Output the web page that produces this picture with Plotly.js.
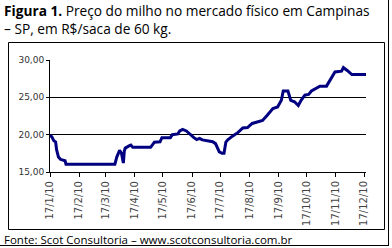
<!DOCTYPE html>
<html><head><meta charset="utf-8">
<script src="https://cdn.plot.ly/plotly-3.0.1.min.js"></script>
<style>html,body{margin:0;padding:0;background:#fff}#c{width:392px;height:248px}</style>
</head><body><div id="c"></div>
<script>
const dates = ["2010-01-17","2010-01-19","2010-01-21","2010-01-23","2010-01-24","2010-01-26","2010-01-28","2010-01-31","2010-02-02","2010-02-03",
"2010-03-27","2010-03-29","2010-03-31","2010-04-01","2010-04-03","2010-04-04","2010-04-05","2010-04-06","2010-04-07","2010-04-11","2010-04-13","2010-04-15",
"2010-05-04","2010-05-08","2010-05-14","2010-05-16","2010-05-25","2010-05-27","2010-06-02","2010-06-04","2010-06-07","2010-06-11","2010-06-16","2010-06-19","2010-06-22","2010-06-25","2010-06-28",
"2010-07-09","2010-07-12","2010-07-14","2010-07-16","2010-07-19","2010-07-21","2010-07-23","2010-07-25","2010-07-30","2010-08-05","2010-08-10","2010-08-15","2010-08-20","2010-08-26","2010-08-31",
"2010-09-05","2010-09-11","2010-09-16","2010-09-20","2010-09-22","2010-09-27","2010-09-30","2010-10-04","2010-10-08","2010-10-11","2010-10-15","2010-10-19","2010-10-22","2010-10-27","2010-10-31",
"2010-11-07","2010-11-11","2010-11-16","2010-11-23","2010-11-25","2010-11-29","2010-12-04","2010-12-19"];
const prices = [19.95,19.7,19.2,19.0,18.0,17.0,16.7,16.6,16.5,16.05,
16.05,17.0,17.8,17.9,17.5,16.5,16.2,17.8,18.2,18.5,18.6,18.3,
18.3,19.0,19.05,19.6,19.6,20.0,20.1,20.5,20.7,20.5,19.9,19.6,19.35,19.5,19.3,
19.05,18.8,18.2,17.7,17.5,17.5,19.0,19.3,19.8,20.3,20.9,20.95,21.5,21.7,21.9,
22.6,23.5,23.7,24.6,25.85,25.85,24.6,24.4,23.9,24.6,25.3,25.4,25.85,26.2,26.5,
26.5,27.35,28.4,28.5,29.0,28.6,28.05,28.05];
const tickDates = ["2010-01-17","2010-02-17","2010-03-17","2010-04-17","2010-05-17","2010-06-17","2010-07-17","2010-08-17","2010-09-17","2010-10-17","2010-11-17","2010-12-17"];
const tickLabels = ["17/1/10","17/2/10","17/3/10","17/4/10","17/5/10","17/6/10","17/7/10","17/8/10","17/9/10","17/10/10","17/11/10","17/12/10"];
const yTicks = [15,20,25,30];
const yLabels = ["15,00","20,00","25,00","30,00"];

const W=392,H=248,L=50,R=26,T=60,B=76;
const pw=W-L-R, ph=H-T-B;
const px=x=>(x-L)/pw, py=y=>1-(y-T)/ph;

const shapes=[
 {type:'rect',xref:'paper',yref:'paper',x0:px(8.5),x1:px(384.5),y0:py(229.5),y1:py(42.5),line:{color:'#000',width:1}},
 {type:'line',xref:'paper',yref:'paper',x0:px(388.5),x1:px(388.5),y0:py(0),y1:py(245.5),line:{color:'#000',width:1}},
 {type:'line',xref:'paper',yref:'paper',x0:px(0),x1:px(389),y0:py(245.5),y1:py(245.5),line:{color:'#000',width:1}}
];

Plotly.newPlot('c',[{
  x:dates,y:prices,type:'scatter',mode:'lines',
  line:{color:'#000080',width:3},hoverinfo:'skip'
}],{
  width:W,height:H,margin:{l:L,r:R,t:T,b:B,pad:0},
  paper_bgcolor:'#fff',plot_bgcolor:'#fff',showlegend:false,
  font:{family:'DejaVu Sans, sans-serif',size:9,color:'#333'},
  xaxis:{type:'date',range:['2010-01-17','2010-12-19'],tickvals:tickDates,ticktext:tickLabels,
    tickangle:-90,ticks:'outside',ticklen:4,tickcolor:'#000',showline:true,linecolor:'#000',linewidth:1,
    showgrid:false,zeroline:false,tickfont:{family:'DejaVu Sans, sans-serif',size:10,color:'#444'}},
  yaxis:{range:[15,30],tickvals:yTicks,ticktext:yLabels,ticks:'outside',ticklen:3,tickcolor:'#000',
    showline:true,linecolor:'#000',linewidth:1,showgrid:true,gridcolor:'#000',gridwidth:1,zeroline:false,
    tickfont:{family:'DejaVu Sans, sans-serif',size:9,color:'#333'}},
  shapes:shapes,
  annotations:[
   {text:'<b>Figura 1.</b> Preço do milho no mercado físico em Campinas<br>– SP, em R$/saca de 60 kg.',
    xref:'paper',yref:'paper',x:px(2),y:py(-1),xanchor:'left',yanchor:'top',align:'left',showarrow:false,
    font:{family:'Open Sans, sans-serif',size:13.7,color:'#000'}},
   {text:'Fonte: Scot Consultoria – www.scotconsultoria.com.br',xref:'paper',yref:'paper',
    x:px(2),y:py(239),xanchor:'left',yanchor:'middle',showarrow:false,
    font:{family:'Open Sans, sans-serif',size:11.5,color:'#000'}}]
},{staticPlot:true});
</script></body></html>
